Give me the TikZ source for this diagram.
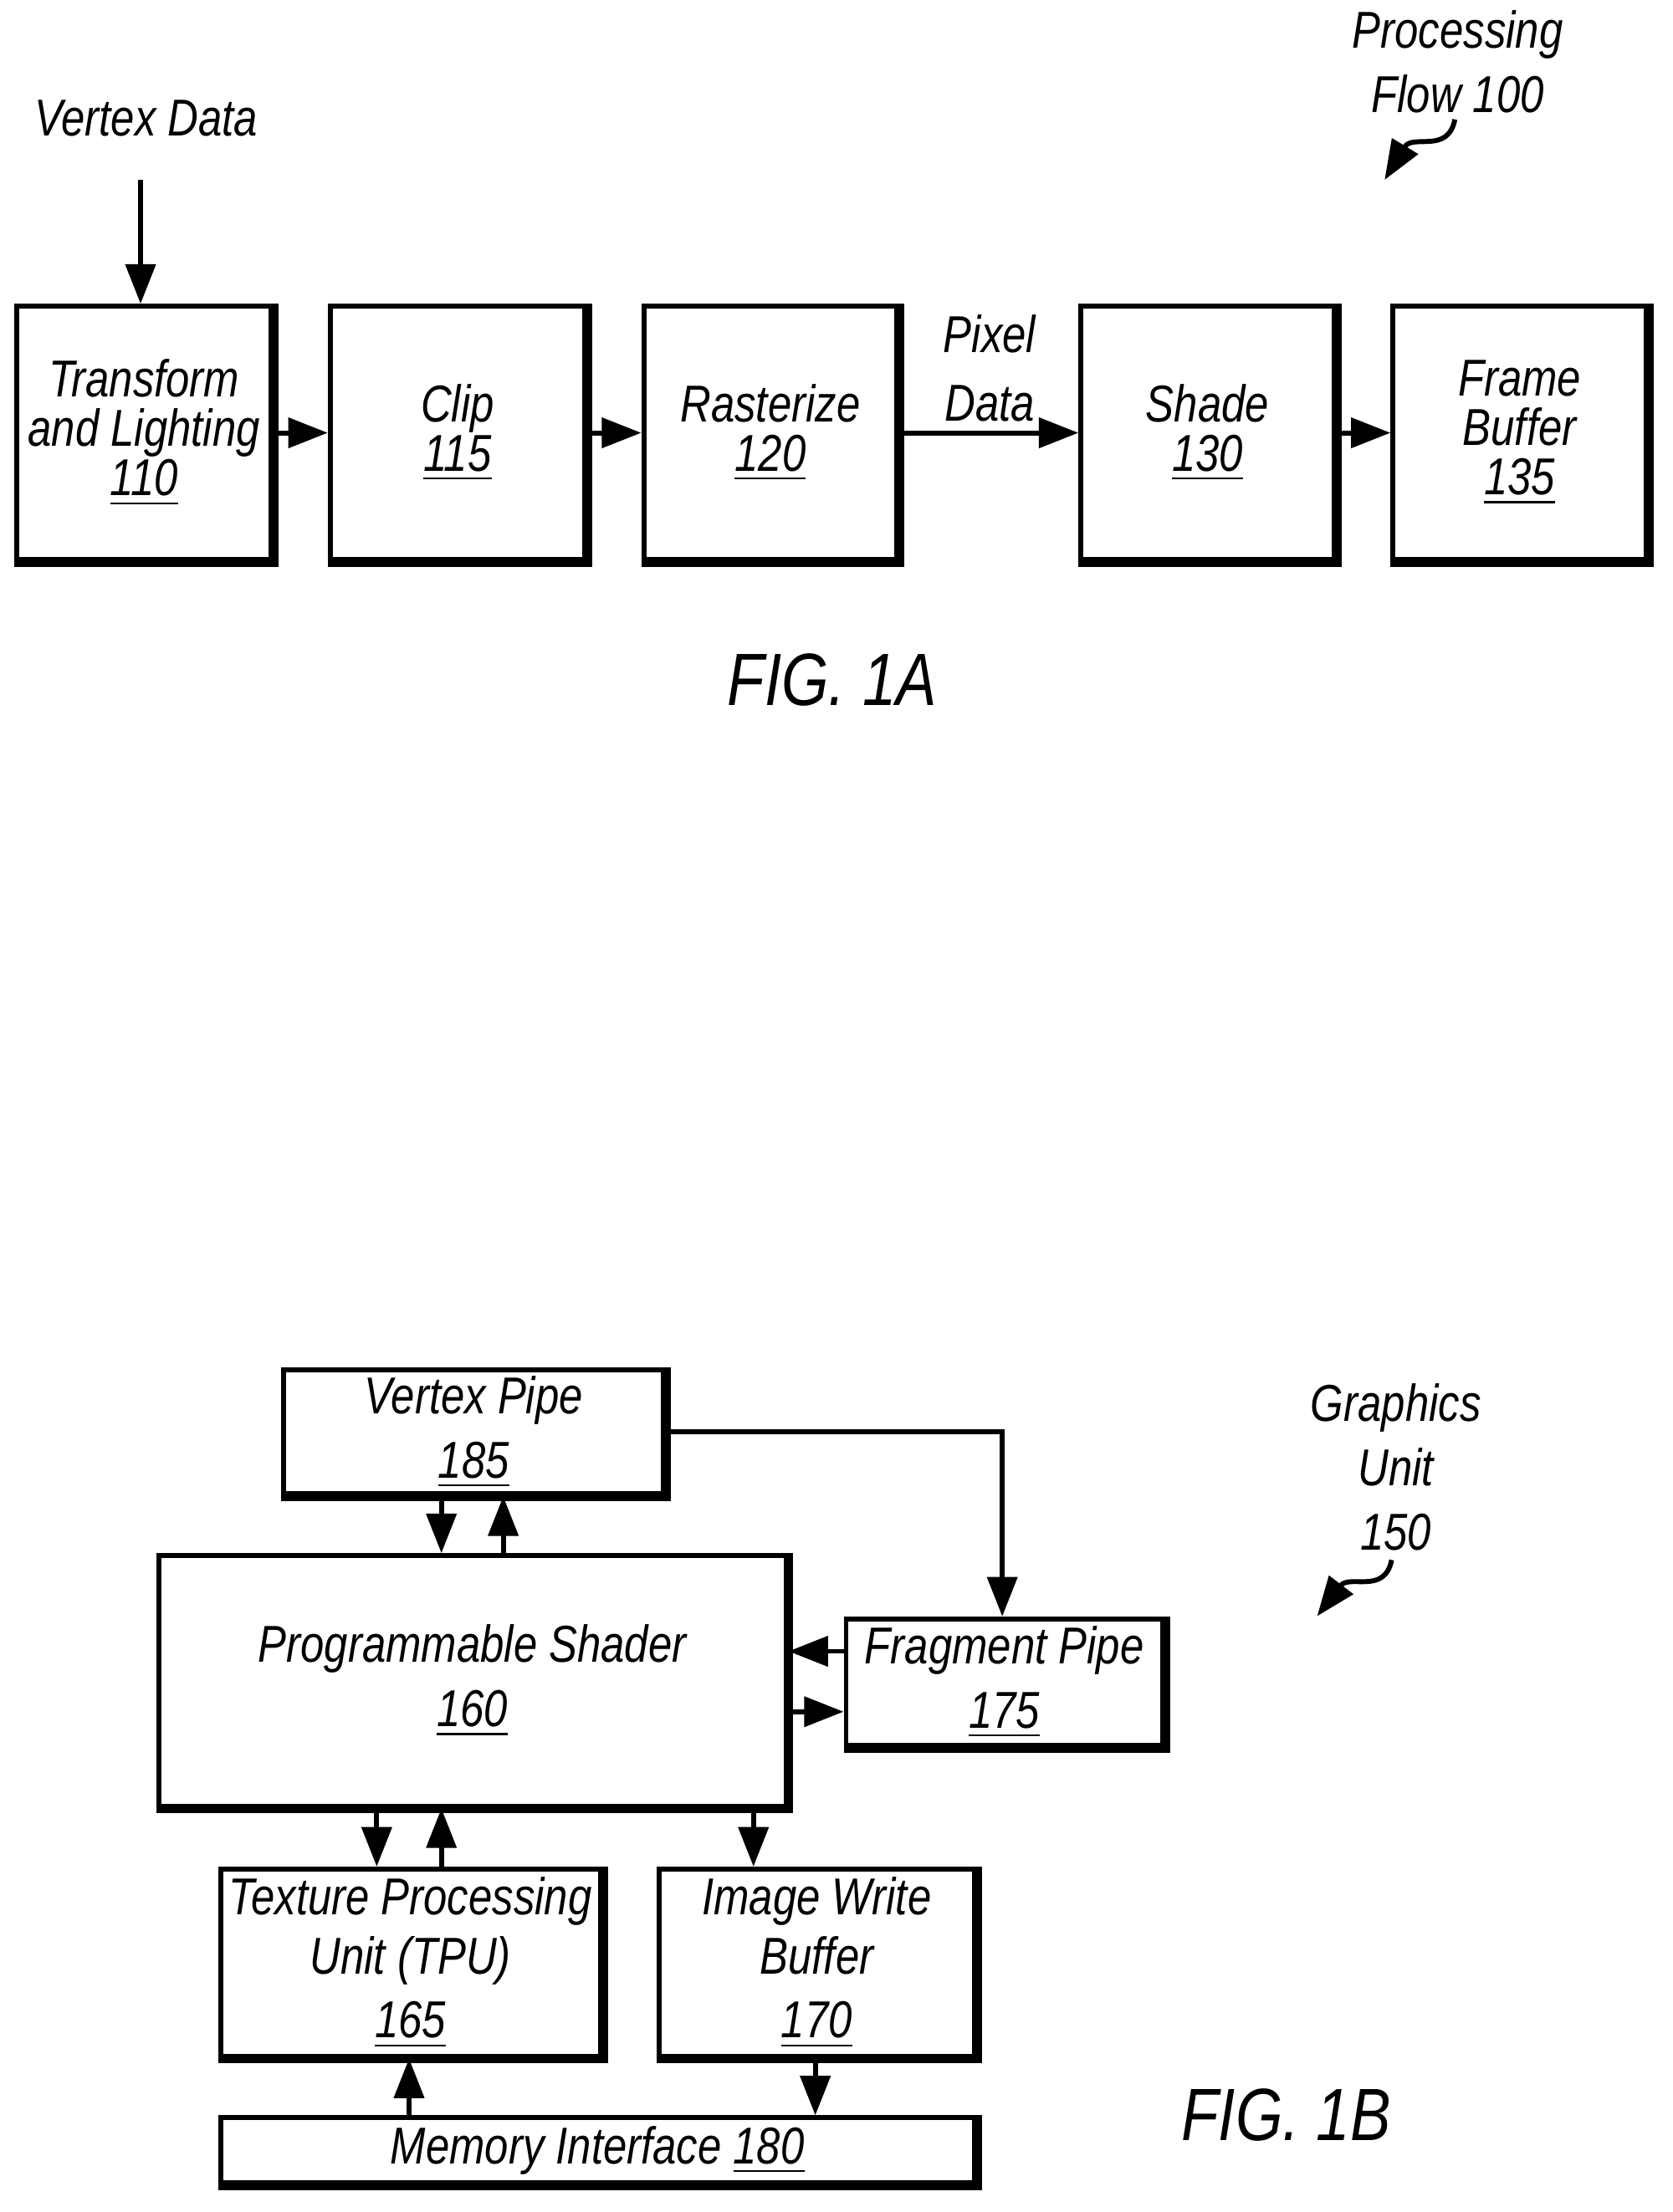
\documentclass[tikz,border=0pt]{standalone}
\usepackage{fontspec}
\setmainfont{Liberation Sans}[FakeStretch=0.82]
\usetikzlibrary{positioning,arrows.meta}
\begin{document}
\begin{tikzpicture}[x=0.01cm,y=-0.01cm,
    box/.style={draw,line width=1pt,inner sep=0pt,align=center,
      font=\fontsize{10.5}{10}\selectfont\itshape},
    lbl/.style={align=center,font=\fontsize{10.5}{10}\selectfont\itshape},
    fig/.style={font=\fontsize{15}{15}\selectfont\itshape},
    arr/.style={-{Triangle[length=8pt,width=6pt]},line width=1pt}]
    \useasboundingbox (0,0) rectangle (1190,1574);

    % FIG. 1A
    \node[box,minimum width=181\pgflinewidth,minimum width=1.81cm,minimum height=1.8cm] (tl) at (102.5,308) {Transform\\and Lighting\\\underline{110}};
    \node[box,minimum width=1.81cm,minimum height=1.8cm] (clip) at (325.5,308) {Clip\\\underline{115}};
    \node[box,minimum width=1.8cm,minimum height=1.8cm] (rast) at (548,308) {Rasterize\\\underline{120}};
    \node[box,minimum width=1.8cm,minimum height=1.8cm] (shade) at (859,308) {Shade\\\underline{130}};
    \node[box,minimum width=1.8cm,minimum height=1.8cm] (fb) at (1081,308) {Frame\\Buffer\\\underline{135}};
    \node[lbl] (vd) at (104,84) {Vertex Data};
    \node[lbl] (pd) at (704,262) {Pixel\\[4pt]Data};
    \node[lbl] (pf) at (1037,44) {Processing\\[3pt]Flow 100};
    \node[fig] (f1a) at (592,484) {FIG. 1A};
    \coordinate (vdtop) at (100,128);
    \draw[arr] (vdtop) -- (vdtop |- tl.north);
    \draw[arr] (tl) -- (clip);
    \draw[arr] (clip) -- (rast);
    \draw[arr] (rast) -- (shade);
    \draw[arr] (shade) -- (fb);
    \coordinate (pfa) at (1035,85);
    \coordinate (pfb) at (985,128);
    \draw[arr] (pfa) .. controls (1030,110) and (1005,95) .. (pfb);

    % FIG. 1B
    \node[box,minimum width=2.7cm,minimum height=0.88cm] (vp) at (337,1019) {Vertex Pipe\\[3pt]\underline{185}};
    \node[box,minimum width=4.46cm,minimum height=1.78cm] (ps) at (336,1196) {Programmable Shader\\[3pt]\underline{160}};
    \node[box,minimum width=2.25cm,minimum height=0.9cm] (fp) at (714.5,1197) {Fragment Pipe\\[3pt]\underline{175}};
    \node[box,minimum width=2.7cm,minimum height=1.33cm] (tpu) at (292,1396.5) {Texture Processing\\[2pt]Unit (TPU)\\[3pt]\underline{165}};
    \node[box,minimum width=2.24cm,minimum height=1.33cm] (iwb) at (581,1396.5) {Image Write\\[2pt]Buffer\\[3pt]\underline{170}};
    \node[box,minimum width=5.36cm,minimum height=0.46cm] (mi) at (425,1530) {Memory Interface \underline{180}};
    \node[lbl] (gu) at (993,1044) {Graphics\\[3pt]Unit\\[3pt]150};
    \node[fig] (f1b) at (915,1505) {FIG. 1B};
    \foreach \n in {tl,clip,rast,shade,fb,vp,ps,fp,tpu,iwb,mi}
        \draw[line width=2pt] (\n.north east) -- (\n.south east) -- (\n.south west);

    \draw[arr] (vp.south -| 314,0) -- (ps.north -| 314,0);
    \draw[arr] (ps.north -| 358,0) -- (vp.south -| 358,0);
    \draw[arr] (vp.east) -| (fp.north -| 713,0);
    \draw[arr] (fp.west |- 0,1175) -- (ps.east |- 0,1175);
    \draw[arr] (ps.east |- 0,1218) -- (fp.west |- 0,1218);
    \draw[arr] (ps.south -| 268,0) -- (tpu.north -| 268,0);
    \draw[arr] (tpu.north -| 314,0) -- (ps.south -| 314,0);
    \draw[arr] (ps.south -| 536,0) -- (iwb.north -| 536,0);
    \draw[arr] (mi.north -| 291,0) -- (tpu.south -| 291,0);
    \draw[arr] (iwb.south -| 580,0) -- (mi.north -| 580,0);
    \coordinate (gua) at (990,1110);
    \coordinate (gub) at (937,1150);
    \draw[arr] (gua) .. controls (985,1135) and (960,1120) .. (gub);
\end{tikzpicture}
\end{document}
